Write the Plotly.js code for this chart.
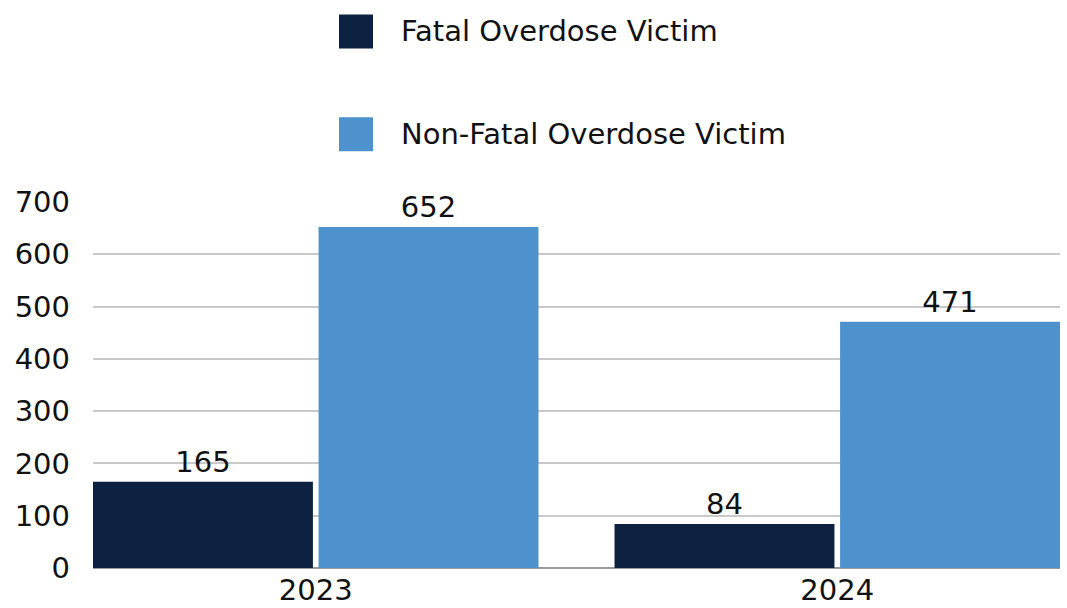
<!DOCTYPE html>
<html>
<head>
<meta charset="utf-8">
<script src="https://cdn.plot.ly/plotly-3.0.1.min.js"></script>
<style>html,body{margin:0;padding:0;background:#fff}#chart{width:1067px;height:608px}</style>
</head>
<body>
<div id="chart"></div>
<script>
const years = ["2023", "2024"];
const seriesNames = ["Fatal Overdose Victim", "Non-Fatal Overdose Victim"];
const fatal = [165, 84];
const nonFatal = [652, 471];
const colors = ["#0D2141", "#4D92CD"];
const yTicks = [0, 100, 200, 300, 400, 500, 600, 700];

const FONT = "DejaVu Sans";
const FS = 29;
const traces = [fatal, nonFatal].map((vals, i) => ({
  type: "bar",
  name: seriesNames[i],
  x: years,
  y: vals,
  marker: {color: colors[i]},
  text: vals.map(String),
  textposition: "outside",
  textfont: {family: FONT, size: FS, color: "#111"},
  cliponaxis: false,
  showlegend: false,
  hoverinfo: "x+y+name"
}));

// custom legend (large square swatches)
const shapes = [];
const annotations = [];
const legendY = [31, 134];
seriesNames.forEach((n, i) => {
  shapes.push({type: "rect", xref: "paper", yref: "paper", xsizemode: "pixel", ysizemode: "pixel",
    xanchor: (356 - 93) / 967, yanchor: 1 + (201.7 - legendY[i]) / 366.3,
    x0: -17, x1: 17, y0: -17, y1: 17, fillcolor: colors[i], line: {width: 0}, layer: "above"});
  annotations.push({xref: "paper", yref: "paper", x: (399 - 93) / 967, y: 1 + (201.7 - legendY[i]) / 366.3,
    xanchor: "left", yanchor: "middle", showarrow: false, text: n,
    font: {family: FONT, size: FS, color: "#111"}});
});

const layout = {
  width: 1067, height: 608,
  margin: {l: 93, r: 7, t: 201.7, b: 40.3, pad: 0},
  paper_bgcolor: "#fff", plot_bgcolor: "#fff",
  barmode: "group", bargap: 0.135, bargroupgap: 0.025,
  font: {family: FONT, size: FS, color: "#111"},
  xaxis: {type: "category", range: [-0.4271, 1.4271], showgrid: false, showline: false, ticks: "",
    tickfont: {family: FONT, size: FS, color: "#111"}, ticklabelstandoff: 2},
  yaxis: {range: [0, 700], tickvals: yTicks, showgrid: true, gridcolor: "#c9c9c9", gridwidth: 2,
    zeroline: true, zerolinecolor: "#9a9a9a", zerolinewidth: 1.5, showline: false, ticks: "",
    tickfont: {family: FONT, size: FS, color: "#111"}, ticklabelstandoff: 22},
  shapes: shapes,
  annotations: annotations,
  showlegend: false
};
Plotly.newPlot("chart", traces, layout, {displayModeBar: false, staticPlot: true});
</script>
</body>
</html>
